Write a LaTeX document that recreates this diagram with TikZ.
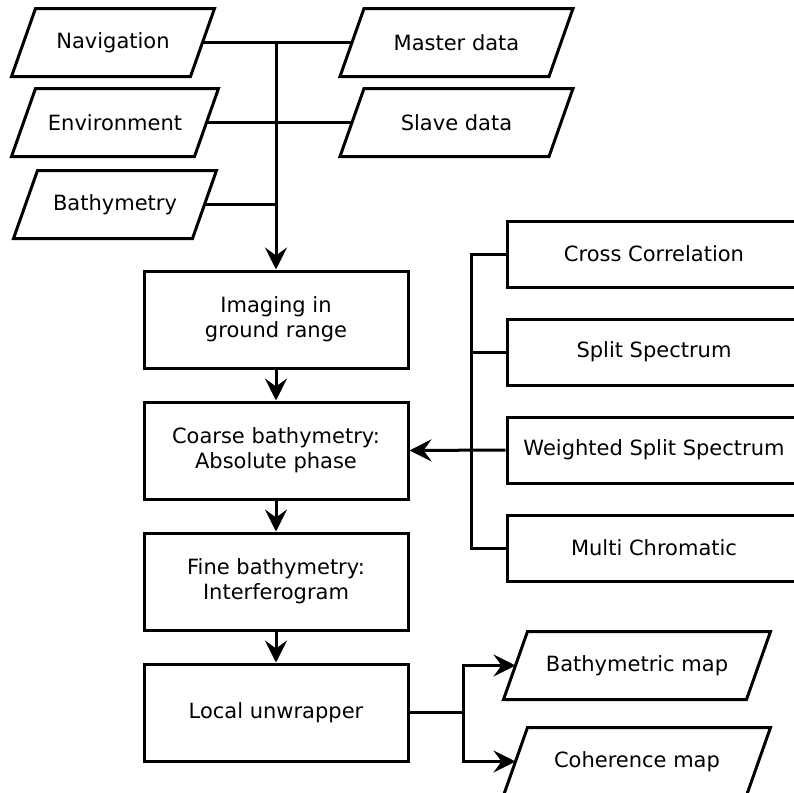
\documentclass[tikz,border=0pt]{standalone}
\usepackage{fontspec}
\setmainfont{DejaVu Sans}
\usetikzlibrary{positioning,arrows.meta}

\begin{document}
\begin{tikzpicture}[x=0.5pt,y=-0.5pt,node distance=40pt,on grid,auto,
		line width=1.5pt,>={Stealth[length=11pt,width=11pt,inset=4pt]},
		font=\fontsize{10.5}{12.5}\selectfont,
		data/.style={rectangle, minimum height=32.5pt, inner sep=0pt,
			append after command={\pgfextra{\draw ([xshift=6pt]\tikzlastnode.north west)
				-- ([xshift=6pt]\tikzlastnode.north east) -- ([xshift=-6pt]\tikzlastnode.south east)
				-- ([xshift=-6pt]\tikzlastnode.south west) -- cycle;}}},
		proc/.style={rectangle, draw, align=center, minimum width=132pt, minimum height=48.5pt},
		method/.style={rectangle, draw, minimum width=147pt, minimum height=33pt}
	]
	\useasboundingbox (0,0) rectangle (794,793);
	
	\node[data, minimum width=88pt] (in_0) at (113,42.5) {Navigation};
	\node[data, minimum width=90pt] (in_1) [below=of in_0, xshift=1pt] {Environment};
	\node[data, minimum width=88pt] (in_2) [below=41pt of in_1] {Bathymetry};
	
	\node[data, minimum width=103pt] (src_0) at (456.5,42.5) {Master data};
	\node[data, minimum width=103pt] (src_1) [below=of src_0] {Slave data};
	
	\node[proc] (proc_0) at (276,319.5) {Imaging in\\ground range};
	\node[proc] (proc_1) [below=65.5pt of proc_0] {Coarse bathymetry:\\Absolute phase};
	\node[proc] (proc_2) [below=65.5pt of proc_1] {Fine bathymetry:\\Interferogram};
	\node[proc] (proc_3) [below=65.5pt of proc_2] {Local unwrapper};
	
	\node[method] (m_0) at (654,254) {Cross Correlation};
	\node[method] (m_1) [below=49pt of m_0] {Split Spectrum};
	\node[method] (m_2) [below=49pt of m_1] {Weighted Split Spectrum};
	\node[method] (m_3) [below=49pt of m_2] {Multi Chromatic};
	
	\node[data, minimum width=120pt] (out_0) at (637,665.5) {Bathymetric map};
	\node[data, minimum width=120pt] (out_1) [below=48pt of out_0] {Coherence map};
	
	\draw (in_0.east) -- (src_0.west);
	\draw (in_1.east) -- (src_1.west);
	\draw (in_2.east) -- (in_2.east -| proc_0.north);
	\draw[->] (in_0.east -| proc_0.north) -- (proc_0.north);
	
	\draw[->] (proc_0) -- (proc_1);
	\draw[->] (proc_1) -- (proc_2);
	\draw[->] (proc_2) -- (proc_3);
	
	\draw (m_0.west) -- ++(-34,0) |- (m_3.west);
	\draw (m_1.west) -- ++(-34,0);
	\draw[->] (m_2.west) -- (proc_1.east);
	
	\draw[->] (proc_3.east) -- ++(54,0) |- (out_0.west);
	\draw[->] (proc_3.east) -- ++(54,0) |- (out_1.west);
\end{tikzpicture}
\end{document}
